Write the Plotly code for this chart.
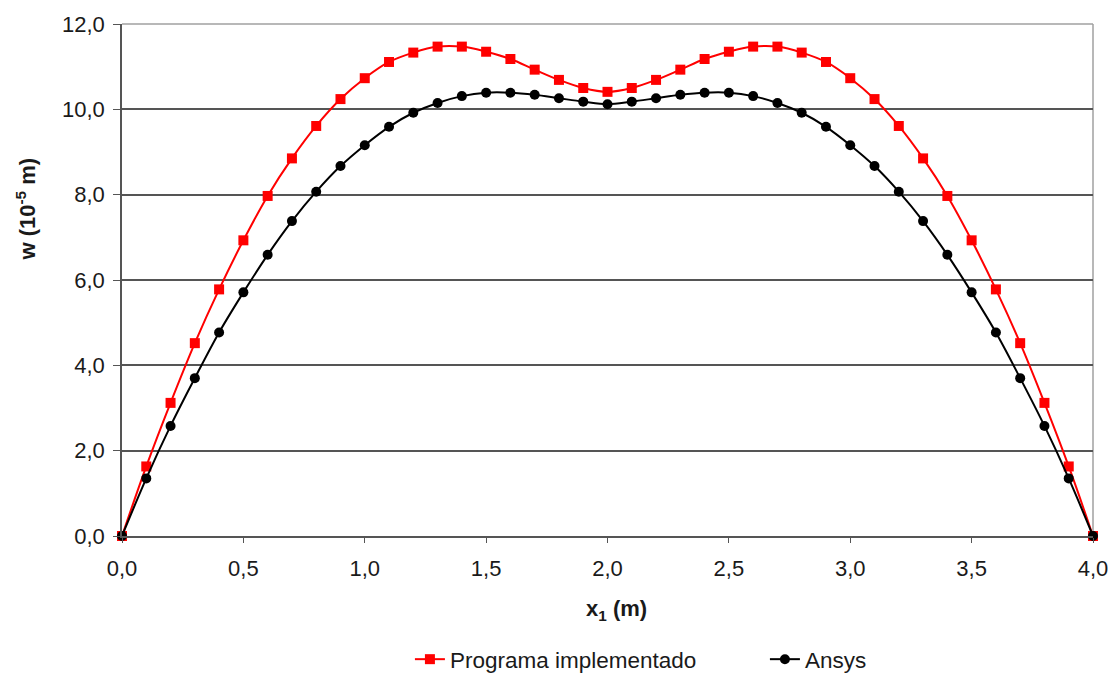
import plotly.graph_objects as go

# Abscissa along the beam (m)
x1 = [0.0, 0.1, 0.2, 0.3, 0.4, 0.5, 0.6, 0.7, 0.8, 0.9,
      1.0, 1.1, 1.2, 1.3, 1.4, 1.5, 1.6, 1.7, 1.8, 1.9,
      2.0, 2.1, 2.2, 2.3, 2.4, 2.5, 2.6, 2.7, 2.8, 2.9,
      3.0, 3.1, 3.2, 3.3, 3.4, 3.5, 3.6, 3.7, 3.8, 3.9, 4.0]

# Deflection w (10^-5 m)
w_programa = [0.00, 1.63, 3.12, 4.52, 5.78, 6.93, 7.97, 8.85, 9.61, 10.24,
              10.73, 11.11, 11.33, 11.47, 11.47, 11.35, 11.18, 10.93, 10.69, 10.50,
              10.41, 10.50, 10.69, 10.93, 11.18, 11.35, 11.47, 11.47, 11.33, 11.11,
              10.73, 10.24, 9.61, 8.85, 7.97, 6.93, 5.78, 4.52, 3.12, 1.63, 0.00]

w_ansys = [0.00, 1.35, 2.58, 3.70, 4.77, 5.71, 6.59, 7.38, 8.07, 8.67,
           9.16, 9.59, 9.92, 10.15, 10.31, 10.39, 10.39, 10.34, 10.26, 10.18,
           10.12, 10.18, 10.26, 10.34, 10.39, 10.39, 10.31, 10.15, 9.92, 9.59,
           9.16, 8.67, 8.07, 7.38, 6.59, 5.71, 4.77, 3.70, 2.58, 1.35, 0.00]

x_ticks = [0.0, 0.5, 1.0, 1.5, 2.0, 2.5, 3.0, 3.5, 4.0]
y_ticks = [0, 2, 4, 6, 8, 10, 12]

FONT = "Liberation Sans, Arial, sans-serif"
TEXT = "#1a1a1a"
GRID = "#555555"

fig = go.Figure()

fig.add_trace(go.Scatter(
    x=x1, y=w_programa, name="Programa implementado",
    mode="lines+markers",
    line=dict(color="#ff0000", width=2, shape="spline"),
    marker=dict(symbol="square", size=10, color="#ff0000"),
    cliponaxis=False,
))

fig.add_trace(go.Scatter(
    x=x1, y=w_ansys, name="Ansys",
    mode="lines+markers",
    line=dict(color="#000000", width=2, shape="spline"),
    marker=dict(symbol="circle", size=10, color="#000000"),
    cliponaxis=False,
))

# light frame on top and right of the plot area
fig.add_shape(type="line", xref="paper", yref="paper", x0=0, x1=1, y0=1, y1=1,
              line=dict(color="#a0a0a0", width=1.5), layer="below")
fig.add_shape(type="line", xref="paper", yref="paper", x0=1, x1=1, y0=0, y1=1,
              line=dict(color="#a0a0a0", width=1.5), layer="below")

fig.update_layout(
    width=1120, height=673,
    margin=dict(l=122, r=21, t=24, b=137),
    paper_bgcolor="white", plot_bgcolor="white",
    separators=",.",
    font=dict(family=FONT, size=22, color=TEXT),
    showlegend=True,
    legend=dict(
        orientation="h",
        xref="container", yref="container",
        x=0.366, y=0.02, xanchor="left", yanchor="middle",
        font=dict(size=22.5, color=TEXT),
        entrywidth=310,
        itemwidth=30,
        bgcolor="rgba(0,0,0,0)",
    ),
    xaxis=dict(
        range=[0, 4], tickvals=x_ticks, tickformat=".1f",
        showgrid=False, zeroline=False,
        showline=True, linecolor=GRID, linewidth=1.5,
        ticks="outside", ticklen=5, tickcolor=GRID,
        ticklabelstandoff=7,
        tickfont=dict(size=22),
    ),
    yaxis=dict(
        range=[0, 12], tickvals=y_ticks, tickformat=".1f",
        showgrid=True, gridcolor=GRID, gridwidth=1.5,
        zeroline=False,
        showline=True, linecolor=GRID, linewidth=1.5,
        ticks="outside", ticklen=7, tickcolor=GRID,
        ticklabelstandoff=4,
        tickfont=dict(size=22),
    ),
)

# axis titles
fig.add_annotation(
    text="<b>x<sub>1</sub> (m)</b>",
    xref="paper", yref="paper",
    x=(620 - 122) / 977, y=(536 - 610) / 512,
    showarrow=False, font=dict(size=22, color=TEXT),
    xanchor="center", yanchor="middle",
)
fig.add_annotation(
    text="<b>w (10<sup>-5</sup> m)</b>",
    xref="paper", yref="paper",
    x=(25 - 122) / 977, y=(536 - 209) / 512,
    textangle=-90, showarrow=False,
    font=dict(size=22, color=TEXT),
    xanchor="center", yanchor="middle",
)

fig.write_html("out.html")
